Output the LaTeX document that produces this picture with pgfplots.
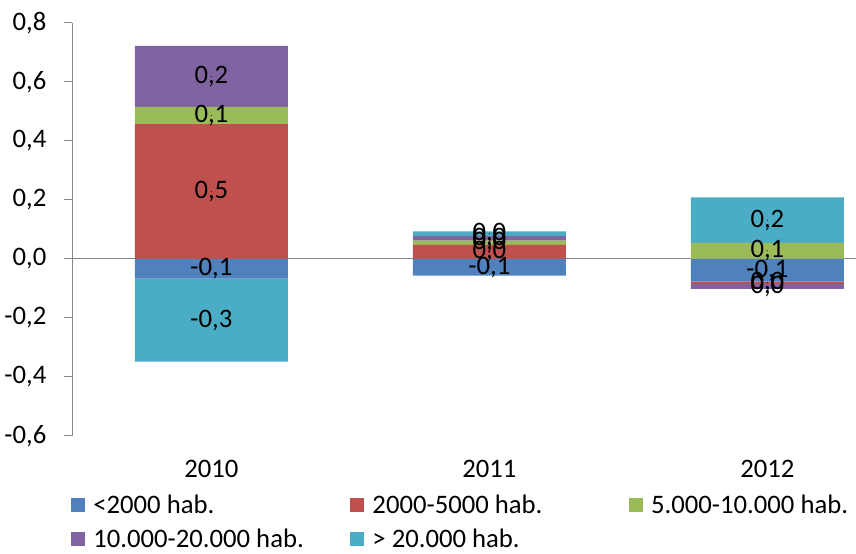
\documentclass[border=0pt]{standalone}
\usepackage{fontspec}
\setmainfont{Carlito}
\usepackage{pgfplots}
\pgfplotsset{compat=1.18}
\definecolor{cBlue}{HTML}{4F81BD}
\definecolor{cRed}{HTML}{C0504D}
\definecolor{cGreen}{HTML}{9BBB59}
\definecolor{cPurple}{HTML}{8064A2}
\definecolor{cCyan}{HTML}{4BACC6}
\definecolor{axisgray}{HTML}{868686}
\pgfplotsset{
  common/.style={width=587pt, height=309.75pt, scale only axis,
    xmin=-0.5, xmax=2.317, ymin=-0.6, ymax=0.8},
  sq/.style={legend image code/.code={\fill[##1] (0pt,-5.25pt) rectangle (10.5pt,5.25pt);}},
}
\begin{document}
\begin{tikzpicture}
\begin{axis}[common,
  ybar stacked, bar width=0.55,
  axis y line*=left, axis x line*=bottom,
  x axis line style={draw=none},
  y axis line style={axisgray, line width=0.75pt},
  ytick={-0.6,-0.4,-0.2,0,0.2,0.4,0.6,0.8},
  xtick={0,1,2}, xticklabels={2010,2011,2012},
  xtick style={draw=none},
  ytick style={axisgray, line width=0.75pt},
  tick align=outside, major tick length=6pt,
  extra y ticks={0}, extra y tick labels={},
  extra y tick style={grid=major, major grid style={axisgray, line width=0.75pt}},
  yticklabel style={xshift=-10pt, /pgf/number format/.cd, fixed, fixed zerofill, precision=1, use comma, assume math mode=true},
  xticklabel style={yshift=-9pt},
  tick label style={font=\fontsize{20}{23}\selectfont},
  legend columns=3, legend cell align=left,
  legend style={at={(0,0)}, anchor=north west, xshift=-4pt, yshift=-41pt,
    draw=none, fill=none, font=\fontsize{20}{23}\selectfont,
    row sep=8pt, nodes={inner sep=1pt},
    /tikz/every odd column/.style={column sep=5pt},
    /tikz/column 2/.style={column sep=34pt},
    /tikz/column 4/.style={column sep=64pt}},
]
\addplot[fill=cBlue, draw=none, sq] coordinates {(0,-0.067) (1,-0.057) (2,-0.077)};
\addplot[fill=cRed, draw=none, sq] coordinates {(0,0.456) (1,0.047) (2,-0.008)};
\addplot[fill=cGreen, draw=none, sq] coordinates {(0,0.059) (1,0.015) (2,0.054)};
\addplot[fill=cPurple, draw=none, sq] coordinates {(0,0.206) (1,0.016) (2,-0.017)};
\addplot[fill=cCyan, draw=none, sq] coordinates {(0,-0.281) (1,0.015) (2,0.154)};
\legend{<2000 hab.,2000-5000 hab.,5.000-10.000 hab.,10.000-20.000 hab.,> 20.000 hab.}
\end{axis}
\begin{axis}[common, hide axis]
\addplot[only marks, mark=*, mark size=0.1pt, mark options={draw=none, fill=none},
  nodes near coords, point meta=explicit symbolic,
  every node near coord/.append style={anchor=center, font=\fontsize{20}{23}\selectfont, text=black}]
coordinates {
 (0,0.228) [{0,5}]
 (0,0.4855) [{0,1}]
 (0,0.618) [{0,2}]
 (0,-0.0335) [{-0,1}]
 (0,-0.2075) [{-0,3}]
 (1,0.0235) [{0,0}]
 (1,0.0545) [{0,0}]
 (1,0.070) [{0,0}]
 (1,0.0855) [{0,0}]
 (1,-0.0285) [{-0,1}]
 (2,0.027) [{0,1}]
 (2,0.131) [{0,2}]
 (2,-0.0385) [{-0,1}]
 (2,-0.081) [{0,0}]
 (2,-0.0935) [{0,0}]
};
\end{axis}
\path (current axis.north west) ++(0pt,17pt);
\end{tikzpicture}
\end{document}
